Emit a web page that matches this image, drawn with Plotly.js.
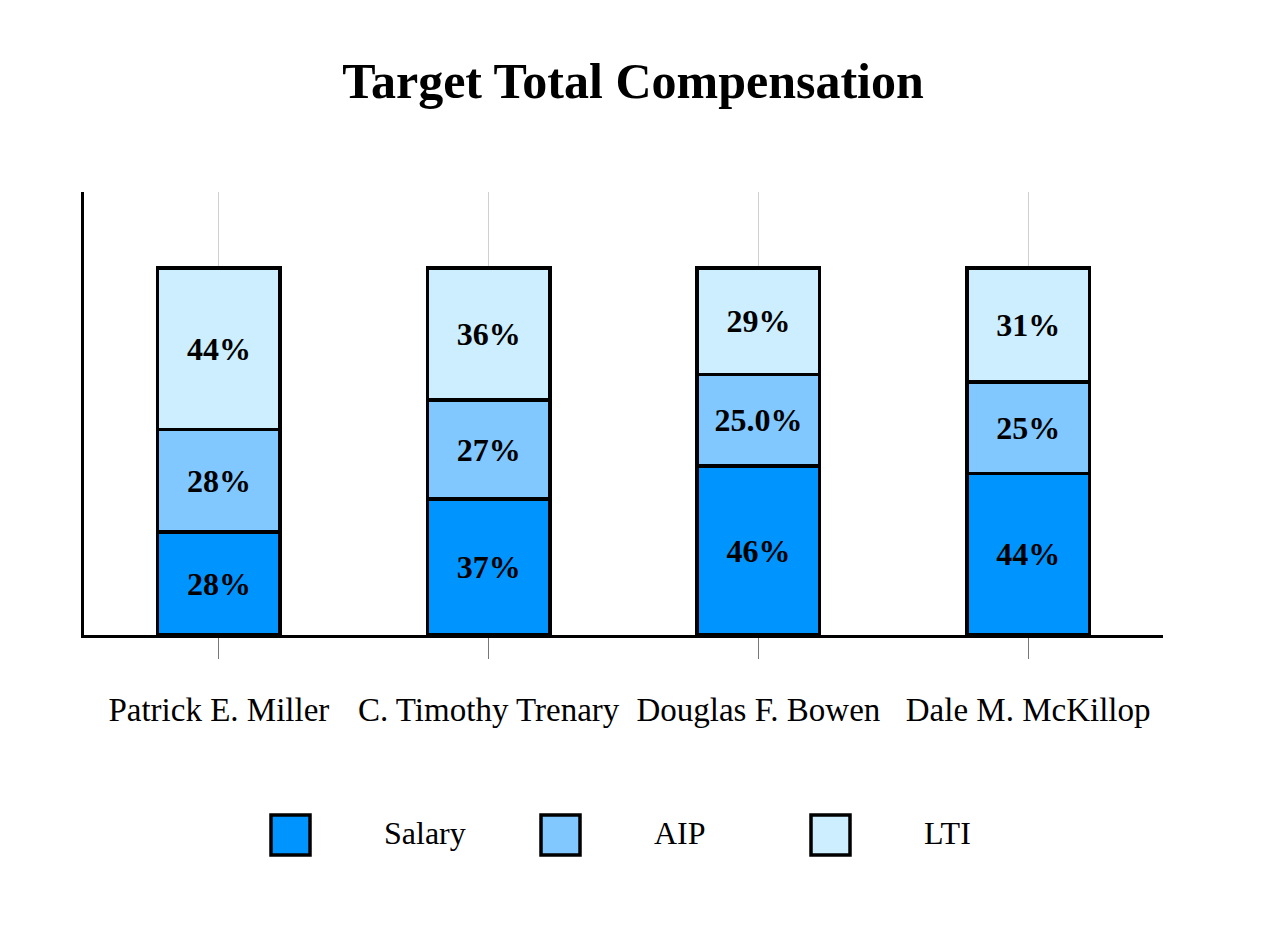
<!DOCTYPE html>
<html>
<head>
<meta charset="utf-8">
<script src="https://cdn.plot.ly/plotly-3.0.1.min.js"></script>
<style>html,body{margin:0;padding:0;background:#fff;}#chart{width:1266px;height:945px;}</style>
</head>
<body>
<div id="chart"></div>
<script>
const executives = ["Patrick E. Miller", "C. Timothy Trenary", "Douglas F. Bowen", "Dale M. McKillop"];
const salary = [28, 37, 46, 44];
const aip = [28, 27, 25, 25];
const lti = [44, 36, 29, 31];
const salaryLabels = ["28%", "37%", "46%", "44%"];
const aipLabels = ["28%", "27%", "25.0%", "25%"];
const ltiLabels = ["44%", "36%", "29%", "31%"];
const seriesNames = ["Salary", "AIP", "LTI"];
const seriesColors = ["#0094FF", "#80C8FF", "#CCEEFF"];

const serif = "Liberation Serif";
const values = [salary, aip, lti];
const labels = [salaryLabels, aipLabels, ltiLabels];

const traces = values.map((v, i) => ({
  type: "bar",
  name: seriesNames[i],
  x: executives,
  y: v,
  text: labels[i],
  textposition: "inside",
  insidetextanchor: "middle",
  constraintext: "none",
  textangle: 0,
  textfont: {family: serif, size: 32, color: "#000", weight: "bold"},
  width: 0.455,
  marker: {color: seriesColors[i], line: {color: "#000", width: 3.5}},
  hoverinfo: "none"
}));

// manual legend (large boxes)
const L = 84, W = 1079, T = 192, H = 443;
const px = x => (x - L) / W;
const py = y => (T + H - y) / H;
const boxX = [271, 541, 811];
const textX = [382, 652, 922];
const shapes = [];
const annotations = [];
seriesNames.forEach((n, i) => {
  shapes.push({type: "rect", xref: "paper", yref: "paper",
    x0: px(boxX[i]), x1: px(boxX[i] + 39), y0: py(855), y1: py(815),
    fillcolor: seriesColors[i], line: {color: "#000", width: 3.5}});
  annotations.push({xref: "paper", yref: "paper", x: px(textX[i]), y: py(833),
    xanchor: "left", yanchor: "middle", showarrow: false, text: n,
    font: {family: serif, size: 32, color: "#000"}});
});

const layout = {
  width: 1266, height: 945,
  margin: {l: L, r: 1266 - L - W, t: T, b: 945 - T - H},
  paper_bgcolor: "#fff", plot_bgcolor: "#fff",
  barmode: "stack",
  showlegend: false,
  title: {text: "<b>Target Total Compensation</b>", x: 0.5, xref: "container", xanchor: "center",
    y: 1 - 80 / 945, yref: "container", yanchor: "middle",
    font: {family: serif, size: 50, color: "#000"}},
  xaxis: {
    type: "category",
    range: [-0.5, 3.5],
    showline: true, linecolor: "#000", linewidth: 3,
    showgrid: true, gridcolor: "#d0d0d0", gridwidth: 1,
    ticks: "outside", ticklen: 21, tickcolor: "#777", tickwidth: 1,
    ticklabelstandoff: 22,
    tickfont: {family: serif, size: 33, color: "#000"},
    zeroline: false
  },
  yaxis: {
    range: [0, 120.7],
    showline: true, linecolor: "#000", linewidth: 3,
    showgrid: false, zeroline: false, showticklabels: false, ticks: ""
  },
  shapes: shapes,
  annotations: annotations
};

Plotly.newPlot("chart", traces, layout, {displayModeBar: false, staticPlot: true});
</script>
</body>
</html>
